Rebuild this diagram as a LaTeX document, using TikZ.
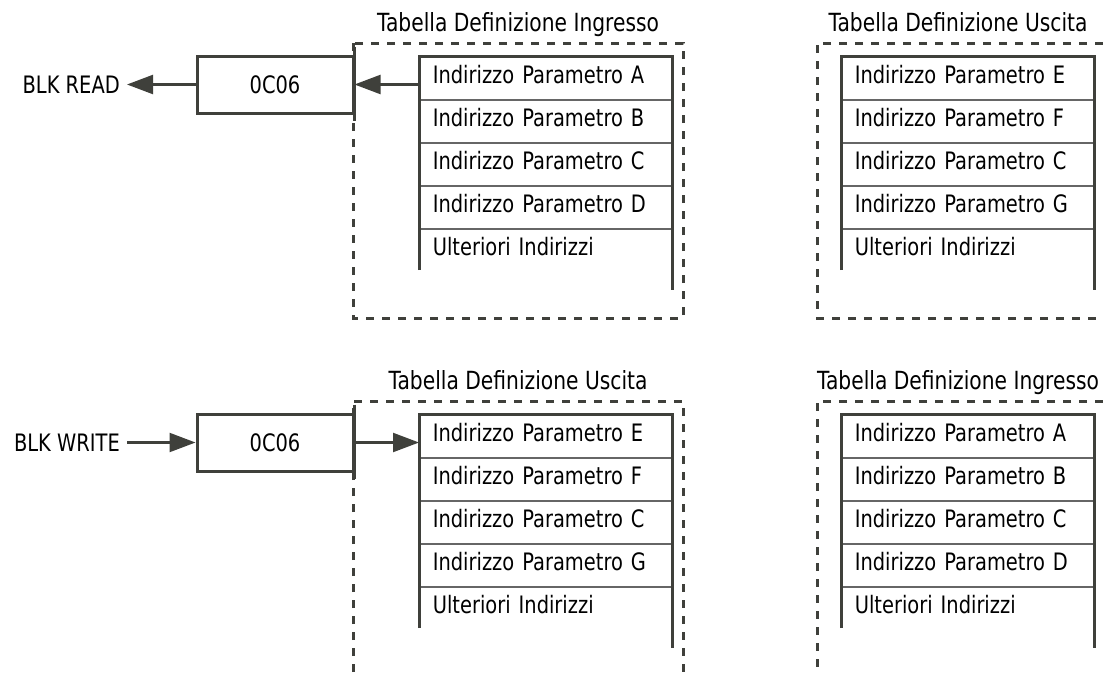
\documentclass[tikz,border=0pt]{standalone}
\usepackage{fontspec}
\setmainfont{DejaVu Sans}[FakeStretch=0.81]
\usetikzlibrary{arrows.meta}
\definecolor{linea}{HTML}{3F403B}
\definecolor{sep}{HTML}{666666}

\begin{document}
\begin{tikzpicture}[x=1pt, y=-1pt, line join=miter,
	every node/.style={font=\fontsize{24}{28}\selectfont},
	riga/.style={draw=sep, line width=1.6pt, anchor=north west, minimum width=252pt, minimum height=43pt,
		inner xsep=13pt, inner ysep=0pt, text width=226pt, align=left, text height=17.5pt, text depth=8pt},
	ultima/.style={riga, draw=none},
	blocco/.style={draw=linea, line width=3pt, minimum width=156pt, minimum height=57pt, inner sep=0pt},
	etichetta/.style={anchor=east, inner xsep=7pt, inner ysep=0pt},
	titolo/.style={anchor=base, inner sep=0pt, font=\fontsize{25}{29}\selectfont},
	bordo/.style={draw=linea, line width=3pt},
	freccia/.style={draw=linea, line width=2.2pt, -{Triangle[length=26pt, width=19pt]}},
	tratteggio/.style={draw=linea, line width=3pt, dash pattern=on 8pt off 8pt}]
	
	\useasboundingbox (0,0) rectangle (1103,672);
	
	\draw[tratteggio] (353,43) rectangle (683,318);
	\draw[tratteggio] (1103,43) -- (817,43) -- (817,318) -- (1103,318);
	\draw[tratteggio] (353,672) -- (353,401) -- (683,401) -- (683,672);
	\draw[tratteggio] (1103,401) -- (817,401) -- (817,672);
	
	\node[titolo] (h1) at (518,31) {Tabella Definizione Ingresso};
	\node[titolo] (h2) at (958,31) {Tabella Definizione Uscita};
	\node[titolo] (h3) at (518,389) {Tabella Definizione Uscita};
	\node[titolo] (h4) at (958,389) {Tabella Definizione Ingresso};
	
	\foreach \n/\tx/\ty/\la/\lb/\lc/\ld in {1/419/0/A/B/C/D, 2/841/0/E/F/C/G, 3/419/358/E/F/C/G, 4/841/358/A/B/C/D} {
		\foreach \k/\lettera in {1/\la, 2/\lb, 3/\lc, 4/\ld}
			\node[riga] (t\n-\k) at (\tx, \ty+13+43*\k) {Indirizzo Parametro \lettera};
		\node[ultima] (t\n-5) at (\tx, \ty+228) {Ulteriori Indirizzi};
		\draw[bordo] (t\n-5.north west) ++(0,42) |- (t\n-1.north east) -- ++(0,234);
	}
	
	\node[blocco] (b1) at (275,84.5) {0C06};
	\node[blocco] (b2) at (275,442.5) {0C06};
	\node[etichetta] (lr) at (127,84.5) {BLK READ};
	\node[etichetta] (lw) at (127,442.5) {BLK WRITE};
	
	\draw[bordo] ([yshift=8pt]b1.north east) -- ([yshift=-6pt]b1.south east);
	\draw[bordo] ([yshift=8pt]b2.north east) -- ([yshift=-6pt]b2.south east);
	
	\draw[freccia] (t1-1.west |- b1.east) -- (b1.east);
	\draw[freccia] (b1.west) -- (lr.east);
	\draw[freccia] (lw.east) -- (b2.west);
	\draw[freccia] (b2.east) -- (t3-1.west |- b2.east);
	
\end{tikzpicture}
\end{document}
